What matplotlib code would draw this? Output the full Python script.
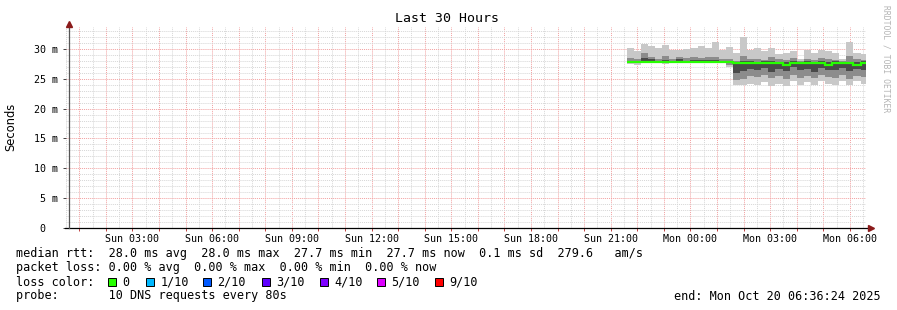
import numpy as np
import matplotlib
matplotlib.use("Agg")
import matplotlib.pyplot as plt
from matplotlib.patches import Rectangle

plt.rcParams["font.family"] = "DejaVu Sans Mono"

# ---- data (values in ms, times in hours since Sun 00:00) ----
bin_times = ["21:36", "21:52", "22:08", "22:24", "22:40", "22:56", "23:12", "23:28",
             "23:44", "24:00", "24:16", "24:32", "24:48", "25:04", "25:20", "25:36",
             "25:52", "26:08", "26:24", "26:40", "26:56", "27:12", "27:28", "27:44",
             "28:00", "28:16", "28:32", "28:48", "29:04", "29:20", "29:36", "29:52",
             "30:08", "30:24"]
bin_minutes = 16

rtt_min = [27.5, 27.4, 27.6, 27.6, 27.6, 27.5, 27.6, 27.6, 27.6, 27.6, 27.6, 27.6, 27.6, 27.6, 27.0,
           24.0, 23.9, 24.2, 24.0, 24.4, 23.8, 24.1, 23.8, 24.7, 24.0, 24.4, 24.0, 24.7, 24.1, 24.0,
           24.7, 23.9, 24.6, 24.1]
rtt_max = [30.1, 29.7, 30.8, 30.5, 30.1, 30.7, 29.9, 29.8, 30.0, 30.1, 30.5, 30.1, 31.2, 29.8, 30.4,
           29.3, 32.0, 29.8, 30.2, 29.7, 30.2, 29.1, 29.3, 29.6, 28.4, 29.8, 29.3, 29.8, 29.6, 29.3,
           28.3, 31.2, 29.3, 29.1]
rtt_lo_mid = [27.7, 27.6, 27.7, 27.7, 27.8, 27.8, 27.7, 27.7, 27.8, 27.7, 27.8, 27.7, 27.8, 27.8, 27.3,
              24.8, 25.0, 25.5, 25.3, 25.6, 25.1, 25.4, 25.0, 25.7, 25.2, 25.5, 25.1, 25.6, 25.3, 25.2,
              25.6, 25.0, 25.5, 25.3]
rtt_hi_mid = [28.5, 28.4, 29.4, 28.7, 28.3, 28.9, 28.3, 28.6, 28.5, 28.6, 28.5, 28.6, 28.7, 28.4, 28.4,
              28.0, 28.8, 28.3, 28.4, 28.2, 28.6, 28.3, 28.2, 28.5, 28.0, 28.4, 28.2, 28.5, 28.3, 28.2,
              28.0, 28.9, 28.3, 28.2]
rtt_lo_in = [27.8, 27.8, 27.8, 27.8, 27.8, 27.8, 27.8, 27.8, 27.8, 27.8, 27.8, 27.8, 27.8, 27.8, 27.6,
             26.0, 26.3, 26.6, 26.5, 26.8, 26.2, 26.6, 26.3, 26.9, 26.4, 26.7, 26.2, 26.8, 26.5, 26.4,
             26.8, 26.3, 26.7, 26.5]
rtt_hi_in = [28.0, 28.0, 28.5, 28.3, 28.0, 28.1, 28.0, 28.3, 28.0, 28.1, 28.2, 28.1, 28.1, 28.0, 28.0,
             27.9, 28.0, 28.0, 27.9, 28.0, 28.0, 27.9, 27.8, 28.0, 27.9, 28.0, 27.9, 28.0, 27.8, 28.0,
             27.9, 27.9, 27.8, 28.0]
rtt_median = [27.9, 27.9, 27.9, 27.9, 27.9, 27.9, 27.9, 27.9, 27.9, 27.9, 27.9, 27.9, 27.9, 27.9, 27.9,
              27.7, 27.6, 27.7, 27.7, 27.7, 27.7, 27.7, 27.4, 27.7, 27.7, 27.7, 27.7, 27.7, 27.4, 27.7,
              27.7, 27.7, 27.4, 27.7]

x_tick_hours = [3, 6, 9, 12, 15, 18, 21, 24, 27, 30]
x_tick_labels = ["Sun 03:00", "Sun 06:00", "Sun 09:00", "Sun 12:00", "Sun 15:00",
                 "Sun 18:00", "Sun 21:00", "Mon 00:00", "Mon 03:00", "Mon 06:00"]
y_ticks = [0, 5, 10, 15, 20, 25, 30]
y_tick_labels = ["0  ", "5 m", "10 m", "15 m", "20 m", "25 m", "30 m"]

loss_labels = ["0", "1/10", "2/10", "3/10", "4/10", "5/10", "9/10"]
loss_colors = ["#26ff00", "#00b8ff", "#0059ff", "#5e00ff", "#7e00ff", "#dd00ff", "#ff0000"]

# time range: Sun 00:36:24 -> Mon 06:36:24
t_start = 36 / 60 + 24 / 3600
t_end = t_start + 30

# ---- figure ----
W, H = 897, 310
fig = plt.figure(figsize=(W / 100, H / 100), dpi=100)
fig.patch.set_facecolor("white")

px0, px1, py0, py1 = 66, 866, 228, 27
ax = fig.add_axes([px0 / W, 1 - py0 / H, (px1 - px0) / W, (py0 - py1) / H])
ax.set_xlim(t_start, t_end)
ax.set_ylim(0, (py0 - py1) / 5.967)

# smoke bins
starts = [int(t.split(":")[0]) + int(t.split(":")[1]) / 60 for t in bin_times]
edges = np.array(starts + [starts[-1] + bin_minutes / 60])

ax.stairs(rtt_max, edges, baseline=rtt_min, fill=True, color="#c8c8c8", lw=0, zorder=2)
ax.stairs(rtt_hi_mid, edges, baseline=rtt_lo_mid, fill=True, color="#8c8c8c", lw=0, zorder=3)
ax.stairs(rtt_hi_in, edges, baseline=rtt_lo_in, fill=True, color="#4a4a4a", lw=0, zorder=4)
ax.stairs(rtt_median, edges, baseline=None, color="#26ff00", lw=1.6, zorder=5)

# grid
dot = (0, (1, 1))
ax.set_xticks(np.arange(1, 31, 1))
ax.set_xticks(np.arange(0.5, 31, 0.5), minor=True)
ax.set_yticks(y_ticks)
ax.set_yticks(np.arange(0, 34, 1), minor=True)
ax.grid(which="minor", color="#d6d6d6", lw=0.7, ls=dot, zorder=1)
ax.grid(which="major", color="#f2a0a0", lw=0.7, ls=dot, zorder=1)
ax.set_axisbelow(True)

labels = ["" for _ in range(1, 31)]
for h, lab in zip(x_tick_hours, x_tick_labels):
    labels[h - 1] = lab
ax.set_xticklabels(labels)
ax.set_yticklabels(y_tick_labels)
ax.tick_params(axis="both", which="major", length=2.5, width=0.7, color="#c04040",
               labelsize=7.2, pad=2)
ax.tick_params(axis="y", which="major", color="#444444", pad=3)
ax.tick_params(axis="both", which="minor", length=0)

for s in ax.spines.values():
    s.set_visible(False)

# axes with arrows
ax.plot([t_start - 0.15, t_end + 0.2], [0, 0], color="black", lw=0.9,
        clip_on=False, zorder=6)
ax.plot([t_start, t_start], [0, 33.9], color="#555555", lw=0.9, clip_on=False, zorder=6)
ax.plot([t_end + 0.2], [0], marker=">", color="#8b1a1a", ms=4, clip_on=False, zorder=7)
ax.plot([t_start], [34.2], marker="^", color="#8b1a1a", ms=4, clip_on=False, zorder=7)

fig.text(447 / W, 1 - 19 / H, "Last 30 Hours", ha="center", va="center", fontsize=9.5)
fig.text(11 / W, 1 - 127 / H, "Seconds", rotation=90, ha="center", va="center",
         fontsize=8.3, family="DejaVu Sans")
fig.text(886 / W, 1 - 5 / H, "RRDTOOL / TOBI OETIKER", rotation=270, ha="center",
         va="top", fontsize=5.8, color="#b4b4b4")

# legend block
fs = 8.5
fig.text(16 / W, 1 - 254 / H,
         "median rtt:  28.0 ms avg  28.0 ms max  27.7 ms min  27.7 ms now  0.1 ms sd  279.6   am/s",
         ha="left", va="center", fontsize=fs)
fig.text(16 / W, 1 - 268 / H,
         "packet loss: 0.00 % avg  0.00 % max  0.00 % min  0.00 % now",
         ha="left", va="center", fontsize=fs)
fig.text(16 / W, 1 - 282 / H, "loss color:", ha="left", va="center", fontsize=fs)
box_x = [108, 146, 203, 262, 320, 377, 435]
for bx, lab, col in zip(box_x, loss_labels, loss_colors):
    fig.patches.append(Rectangle((bx / W, 1 - 286 / H), 8 / W, 8 / H, facecolor=col,
                                 edgecolor="black", lw=0.7, transform=fig.transFigure))
    fig.text((bx + 14.5) / W, 1 - 282 / H, lab, ha="left", va="center", fontsize=fs)
fig.text(16 / W, 1 - 296 / H, "probe:       10 DNS requests every 80s",
         ha="left", va="center", fontsize=fs)
fig.text(881 / W, 1 - 296 / H, "end: Mon Oct 20 06:36:24 2025",
         ha="right", va="center", fontsize=fs)

fig.savefig("out.png", dpi=100, facecolor="white")
